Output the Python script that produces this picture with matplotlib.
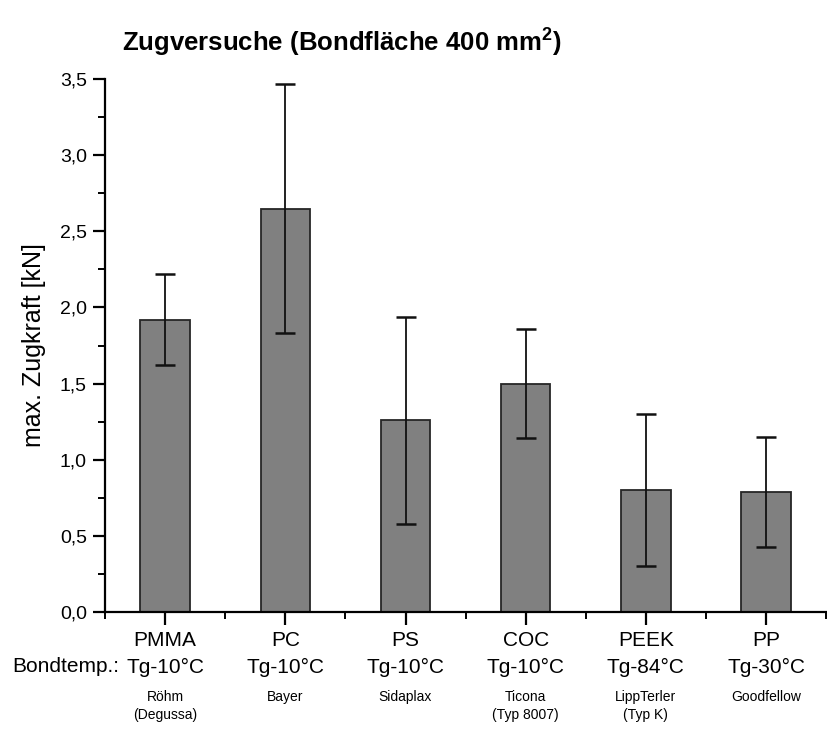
import matplotlib
matplotlib.use("Agg")
import matplotlib.pyplot as plt
from matplotlib.ticker import MultipleLocator, FixedLocator
import matplotlib.transforms as mtransforms

plt.rcParams['font.family'] = ['Liberation Sans', 'DejaVu Sans']
plt.rcParams['mathtext.fontset'] = 'custom'
plt.rcParams['mathtext.rm'] = 'Liberation Sans'
plt.rcParams['mathtext.bf'] = 'Liberation Sans:bold'

materials = ["PMMA", "PC", "PS", "COC", "PEEK", "PP"]
bondtemps = ["Tg-10°C", "Tg-10°C", "Tg-10°C", "Tg-10°C", "Tg-84°C", "Tg-30°C"]
suppliers = ["Röhm\n(Degussa)", "Bayer", "Sidaplax", "Ticona\n(Typ 8007)", "LippTerler\n(Typ K)", "Goodfellow"]
values = [1.92, 2.65, 1.26, 1.50, 0.80, 0.79]
errors = [0.30, 0.82, 0.68, 0.36, 0.50, 0.36]
yticks = [0.0, 0.5, 1.0, 1.5, 2.0, 2.5, 3.0, 3.5]
ytick_labels = ["0,0", "0,5", "1,0", "1,5", "2,0", "2,5", "3,0", "3,5"]

fig = plt.figure(figsize=(8.27, 7.29), dpi=100)
ax = fig.add_axes([0.127, 0.1605, 0.872, 0.731])

x = list(range(len(materials)))
ax.bar(x, values, width=0.41, color="#808080", edgecolor="#262626", linewidth=1.3, zorder=2)
ax.errorbar(x, values, yerr=errors, fmt="none", ecolor="#111111", elinewidth=1.3,
            capsize=7, capthick=1.8, zorder=3)

ax.set_xlim(-0.5, 5.5)
ax.set_ylim(0, 3.5)

for s in ["top", "right"]:
    ax.spines[s].set_visible(False)
ax.spines["left"].set_linewidth(1.6)
ax.spines["bottom"].set_linewidth(1.6)

ax.set_yticks(yticks)
ax.set_yticklabels(ytick_labels, fontsize=14)
ax.yaxis.set_minor_locator(MultipleLocator(0.25))
ax.tick_params(axis="y", which="major", direction="out", length=9, width=1.6, pad=4)
ax.tick_params(axis="y", which="minor", direction="out", length=5, width=1.4)

ax.set_xticks(x)
ax.set_xticklabels([f"{m}\n{t}" for m, t in zip(materials, bondtemps)], fontsize=15, linespacing=1.5)
ax.xaxis.set_minor_locator(FixedLocator([i + 0.5 for i in range(-1, len(materials))]))
ax.tick_params(axis="x", which="major", direction="out", length=9, width=1.6, pad=5)
ax.tick_params(axis="x", which="minor", direction="out", length=5, width=1.4)

ax.set_ylabel("max. Zugkraft [kN]", fontsize=18, labelpad=10)

trans = mtransforms.blended_transform_factory(ax.transData, fig.transFigure)
for xi, sup in zip(x, suppliers):
    ax.text(xi, 1 - 690 / 729, sup, transform=trans, ha="center", va="top",
            fontsize=10, linespacing=1.35)

fig.text(12 / 827, 1 - 667 / 729, "Bondtemp.:", ha="left", va="center", fontsize=15)

fig.text(122 / 827, 1 - 42 / 729, r"Zugversuche (Bondfläche 400 mm$^\mathbf{2}$)",
         ha="left", va="center", fontsize=18.5, fontweight="bold")

fig.savefig("out.png", dpi=100)
